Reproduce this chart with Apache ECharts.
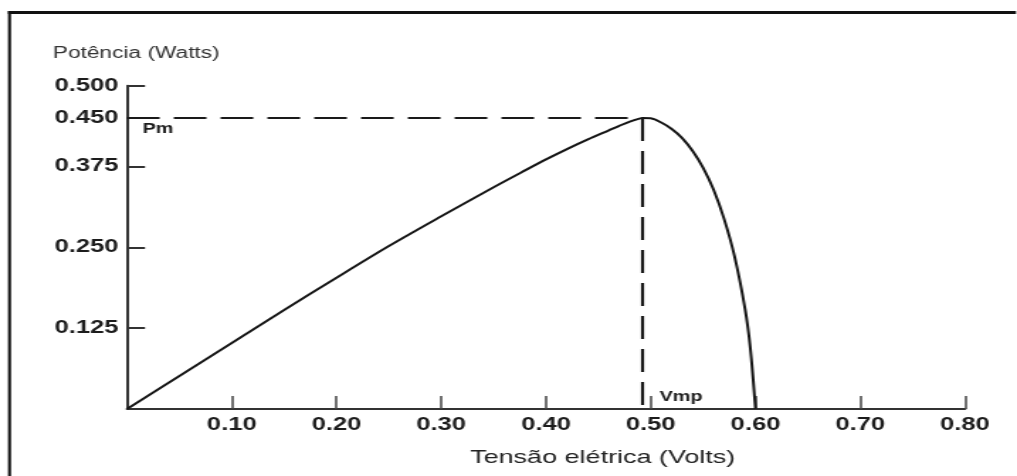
<!DOCTYPE html>
<html><head><meta charset="utf-8">
<script src="https://cdn.jsdelivr.net/npm/echarts@6/dist/echarts.min.js"></script>
<style>
html,body{margin:0;padding:0;background:#fff;overflow:hidden;width:1017px;height:476px}
#chart{position:absolute;left:0;top:0;width:717px;height:476px;transform:scaleX(1.41841);transform-origin:0 0}
</style></head><body><div id="chart"></div>
<script>
// Data
const voltage = [0, 0.05, 0.10, 0.15, 0.20, 0.25, 0.30, 0.35, 0.38, 0.40, 0.42, 0.44, 0.46, 0.47, 0.48, 0.49, 0.492, 0.50, 0.51, 0.52, 0.53, 0.54, 0.55, 0.56, 0.57, 0.58, 0.59, 0.595, 0.60];
const power   = [0, 0.051, 0.102, 0.153, 0.203, 0.252, 0.298, 0.343, 0.369, 0.386, 0.402, 0.417, 0.431, 0.438, 0.4445, 0.4495, 0.45, 0.4495, 0.443, 0.433, 0.419, 0.399, 0.373, 0.339, 0.294, 0.236, 0.155, 0.095, 0];
const xTicks = [0.1, 0.2, 0.3, 0.4, 0.5, 0.6, 0.7, 0.8];
const yTicks = [0.125, 0.25, 0.375, 0.45, 0.5];
const vmp = 0.492;
const pm = 0.45;
const xTitle = 'Tensão elétrica (Volts)';
const yTitle = 'Potência (Watts)';

const S = 1017 / 717;
const font = '"Liberation Sans", Arial, sans-serif';
const ink = '#1c1c1c';

const chart = echarts.init(document.getElementById('chart'), null, {renderer: 'canvas'});
chart.setOption({
  animation: false,
  backgroundColor: '#fff',
  graphic: [
    {type: 'line', silent: true, shape: {x1: 9.5 / S, y1: 11, x2: 9.5 / S, y2: 480}, style: {stroke: '#111', lineWidth: 3 / S}},
    {type: 'line', silent: true, shape: {x1: 8 / S, y1: 12.5, x2: 1016 / S, y2: 12.5}, style: {stroke: '#111', lineWidth: 3}}
  ],
  grid: {left: 127 / S, right: 52 / S, top: 85.7, bottom: 67, containLabel: false, outerBoundsMode: 'none'},
  xAxis: {
    type: 'value', min: 0, max: 0.8, interval: 0.1,
    name: xTitle, nameLocation: 'middle', nameGap: 39,
    nameTextStyle: {fontFamily: font, fontSize: 19, color: '#222', padding: [0, 0, 0, 80]},
    axisLine: {show: true, lineStyle: {color: '#333', width: 2}},
    axisTick: {show: true, inside: true, length: 13, customValues: xTicks, lineStyle: {color: '#444', width: 1.5}},
    axisLabel: {customValues: xTicks, margin: 7, fontFamily: font, fontSize: 18, fontWeight: 'bold', color: ink,
      formatter: v => v.toFixed(2)},
    splitLine: {show: false}
  },
  yAxis: {
    type: 'value', min: 0, max: 0.5,
    name: yTitle, nameLocation: 'end', nameGap: 24,
    nameTextStyle: {fontFamily: font, fontSize: 16, color: '#333', padding: [0, 0, 0, 13]},
    axisLine: {show: true, lineStyle: {color: '#333', width: 2}},
    axisTick: {show: true, inside: true, length: 12.7, customValues: yTicks, lineStyle: {color: '#333', width: 2}},
    axisLabel: {customValues: yTicks, margin: 6, fontFamily: font, fontSize: 18, fontWeight: 'bold', color: ink,
      formatter: v => v.toFixed(3)},
    splitLine: {show: false}
  },
  series: [{
    type: 'line',
    data: voltage.map((v, i) => [v, power[i]]),
    showSymbol: false, symbol: 'none',
    smooth: 0.3,
    lineStyle: {color: '#151515', width: 2},
    markLine: {
      silent: true, symbol: 'none', animation: false,
      label: {show: false},
      lineStyle: {color: '#1a1a1a', width: 2.2, type: [23, 10]},
      data: [
        [{coord: [0, pm]}, {coord: [vmp, pm]}],
        [{coord: [vmp, pm]}, {coord: [vmp, 0]}]
      ]
    },
    markPoint: {
      silent: true, symbol: 'circle', symbolSize: 0, animation: false,
      data: [
        {coord: [0, pm], label: {show: true, formatter: 'Pm', position: [11, 4], fontFamily: font, fontSize: 14, fontWeight: 'bold', color: ink}},
        {coord: [vmp, 0], label: {show: true, formatter: 'Vmp', position: [12, -19], fontFamily: font, fontSize: 14, fontWeight: 'bold', color: ink}}
      ]
    }
  }]
});
</script></body></html>
